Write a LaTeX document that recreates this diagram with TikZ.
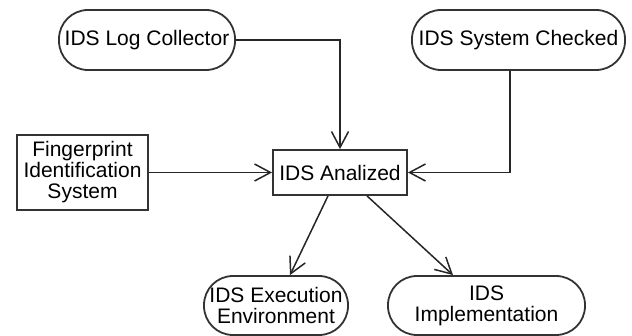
\documentclass[tikz,border=0pt]{standalone}
\usepackage{fontspec}
\setmainfont{Liberation Sans}
\usetikzlibrary{arrows.meta}

\begin{document}
\begin{tikzpicture}[x=0.5pt,y=-0.5pt,
	>={Straight Barb[length=8pt,width=8.5pt]},
    every node/.style = {font=\fontsize{10.5}{10.5}\selectfont,
                         align=center, inner sep=0pt},
    state/.style = {rectangle, rounded corners=14.5pt, draw=black!80,
                    line width=0.9pt, minimum height=29.5pt},
    process/.style = {rectangle, draw=black!80, line width=0.9pt}]
  \useasboundingbox (0,0) rectangle (632,336);

  \node (analized) [process, minimum width=67pt, minimum height=22.5pt] at (340,172.5) {IDS Analized};
  \node (print) [process, minimum width=65.5pt, minimum height=37.5pt,
                 left of=analized, node distance=128.75pt] {Fingerprint\\Identification\\System};
  \node (collector) [state, minimum width=88pt, minimum height=30pt,
                     above of=analized, node distance=66.25pt, xshift=-96.5pt] {IDS Log Collector};
  \node (checked) [state, minimum width=106.5pt, minimum height=30pt,
                   above of=analized, node distance=66.25pt, xshift=89.25pt] {IDS System Checked};
  \node (execution) [state, minimum width=72pt,
                     below of=analized, node distance=66.5pt, xshift=-32pt] {IDS Execution\\Environment};
  \node (implementation) [state, minimum width=98.5pt,
                          below of=analized, node distance=66.5pt, xshift=73.25pt] {IDS\\Implementation};

  \draw[->,line width=0.75pt,black!85] (collector) -| (analized);
  \draw[->,line width=0.75pt,black!85] ([xshift=-4.25pt]checked.south) |- (analized);
  \draw[->,line width=0.75pt,black!85] (print) -- (analized);

  \draw[->,line width=0.75pt,black!85] ([xshift=-6pt]analized.south) -- ([xshift=7pt]execution.north);
  \draw[->,line width=0.75pt,black!85] ([xshift=13.5pt]analized.south) -- ([xshift=-16.75pt]implementation.north);
\end{tikzpicture}
\end{document}
